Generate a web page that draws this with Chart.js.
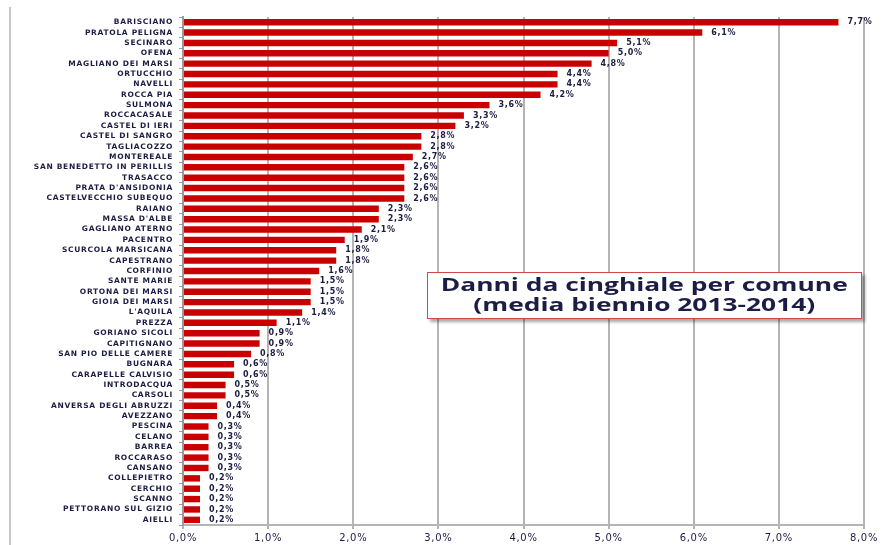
<!DOCTYPE html>
<html>
<head>
<meta charset="utf-8">
<script src="https://cdn.jsdelivr.net/npm/chart.js@4"></script>
<style>
  body { margin: 0; background: #fff; }
  #wrap { position: relative; width: 885px; height: 545px; }
  #titolo {
    position: absolute; left: 427px; top: 272px; width: 433px; height: 43px;
    border: 1px solid #d04848; background: #fff;
    box-shadow: 3px 3px 3px rgba(0,0,0,0.35);
    font-family: "Open Sans", sans-serif; font-weight: bold; font-size: 17px;
    color: #1c1c44; text-align: center; line-height: 20px; padding-top: 2px;
    box-sizing: content-box;
  }
  #titolo span { display: inline-block; transform: scaleX(1.55); transform-origin: center; white-space: nowrap; }
</style>
</head>
<body>
<div id="wrap">
  <canvas id="grafico" width="885" height="545"></canvas>
  <div id="titolo"><span>Danni da cinghiale per comune</span><br><span>(media biennio 2013-2014)</span></div>
</div>
<script>
const comuni = ['BARISCIANO', 'PRATOLA PELIGNA', 'SECINARO', 'OFENA', 'MAGLIANO DEI MARSI',
  'ORTUCCHIO', 'NAVELLI', 'ROCCA PIA', 'SULMONA', 'ROCCACASALE', 'CASTEL DI IERI',
  'CASTEL DI SANGRO', 'TAGLIACOZZO', 'MONTEREALE', 'SAN BENEDETTO IN PERILLIS', 'TRASACCO',
  "PRATA D'ANSIDONIA", 'CASTELVECCHIO SUBEQUO', 'RAIANO', "MASSA D'ALBE", 'GAGLIANO ATERNO',
  'PACENTRO', 'SCURCOLA MARSICANA', 'CAPESTRANO', 'CORFINIO', 'SANTE MARIE',
  'ORTONA DEI MARSI', 'GIOIA DEI MARSI', "L'AQUILA", 'PREZZA', 'GORIANO SICOLI',
  'CAPITIGNANO', 'SAN PIO DELLE CAMERE', 'BUGNARA', 'CARAPELLE CALVISIO', 'INTRODACQUA',
  'CARSOLI', 'ANVERSA DEGLI ABRUZZI', 'AVEZZANO', 'PESCINA', 'CELANO', 'BARREA',
  'ROCCARASO', 'CANSANO', 'COLLEPIETRO', 'CERCHIO', 'SCANNO', 'PETTORANO SUL GIZIO', 'AIELLI'];

const danni = [7.7, 6.1, 5.1, 5.0, 4.8, 4.4, 4.4, 4.2, 3.6, 3.3, 3.2, 2.8, 2.8, 2.7, 2.6, 2.6,
  2.6, 2.6, 2.3, 2.3, 2.1, 1.9, 1.8, 1.8, 1.6, 1.5, 1.5, 1.5, 1.4, 1.1, 0.9, 0.9, 0.8, 0.6,
  0.6, 0.5, 0.5, 0.4, 0.4, 0.3, 0.3, 0.3, 0.3, 0.3, 0.2, 0.2, 0.2, 0.2, 0.2];

const tickX = [0, 1, 2, 3, 4, 5, 6, 7, 8];

const percento = v => v.toFixed(1).replace('.', ',') + '%';

// testo un po' spaziato come nell'originale
const spaziatura = {
  id: 'spaziatura',
  beforeDraw(chart) { chart.ctx.letterSpacing = '0.7px'; },
  afterDraw(chart) { chart.ctx.letterSpacing = '0px'; }
};

// etichette dei valori a destra delle barre + bordo grigio a sinistra
const etichette = {
  id: 'etichette',
  afterDatasetsDraw(chart) {
    const ctx = chart.ctx;
    const meta = chart.getDatasetMeta(0);
    ctx.save();
    ctx.font = 'bold 8px "DejaVu Sans", sans-serif';
    ctx.fillStyle = '#1c1c44';
    ctx.textBaseline = 'middle';
    ctx.textAlign = 'left';
    meta.data.forEach((bar, i) => {
      ctx.fillText(percento(danni[i]), bar.x + 9, bar.y);
    });
    ctx.strokeStyle = '#c8c8c8';
    ctx.lineWidth = 2;
    ctx.beginPath();
    ctx.moveTo(10, 7);
    ctx.lineTo(10, 545);
    ctx.stroke();
    ctx.restore();
  }
};

const ctx = document.getElementById('grafico').getContext('2d');

new Chart(ctx, {
  type: 'bar',
  data: {
    labels: comuni,
    datasets: [{
      data: danni,
      backgroundColor: '#c80000',
      barPercentage: 0.62,
      categoryPercentage: 1
    }]
  },
  options: {
    indexAxis: 'y',
    responsive: false,
    animation: false,
    layout: { padding: { top: 17, right: 21, bottom: 0, left: 0 } },
    plugins: { legend: { display: false }, tooltip: { enabled: false } },
    scales: {
      x: {
        min: 0,
        max: 8,
        afterBuildTicks: s => { s.ticks = tickX.map(v => ({ value: v })); },
        grid: { color: '#b4b4b4', lineWidth: 2, tickLength: 4 },
        border: { color: '#b4b4b4', width: 2 },
        ticks: {
          callback: v => percento(v),
          font: { family: '"DejaVu Sans", sans-serif', size: 10 },
          color: '#1c1c44',
          padding: 3
        },
        afterFit: s => { s.height = 20; }
      },
      y: {
        grid: { offset: true, drawOnChartArea: false, color: '#9a9a9a', tickLength: 4 },
        border: { color: '#9a9a9a', width: 2 },
        ticks: {
          autoSkip: false,
          font: { family: '"DejaVu Sans", sans-serif', size: 7.5, weight: 'bold' },
          color: '#1c1c44',
          padding: 6
        },
        afterFit: s => { s.width = 183; }
      }
    }
  },
  plugins: [spaziatura, etichette]
});
</script>
</body>
</html>
